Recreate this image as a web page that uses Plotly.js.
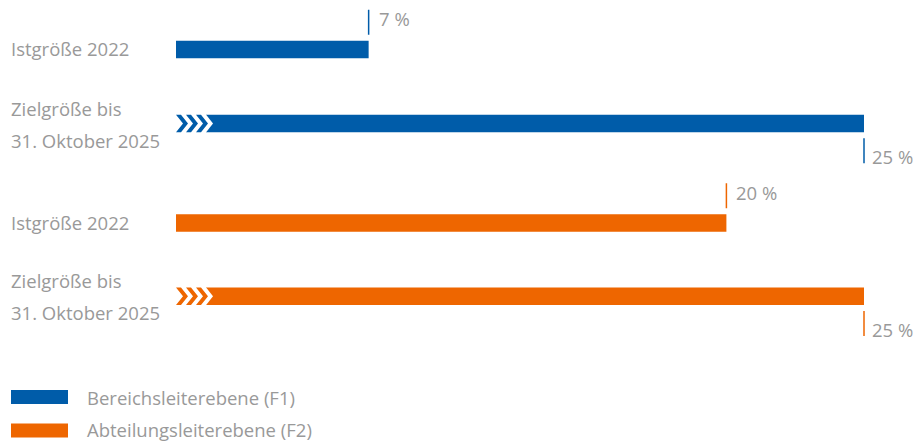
<!DOCTYPE html>
<html>
<head>
<meta charset="utf-8">
<script src="https://cdn.plot.ly/plotly-3.0.1.min.js"></script>
<style>html,body{margin:0;padding:0;background:#fff;}#chart{width:914px;height:442px;}</style>
</head>
<body>
<div id="chart"></div>
<script>
// ---- data ----
const seriesNames = ['Bereichsleiterebene (F1)', 'Abteilungsleiterebene (F2)'];
const istLabel = 'Istgröße 2022';
const zielLabelLines = ['Zielgröße bis', '31. Oktober 2025'];
const istValues = [7, 20];
const zielValues = [25, 25];
const seriesColors = ['#005CA9', '#EE6600'];

// ---- layout constants ----
const W = 914, H = 442;
const x0px = 176, x25px = 864;
const k = 25 / (x25px - x0px);          // data units per pixel
const TXT = '#999999';
const FONT = 'Open Sans, sans-serif';
const FS = 18.5;
const barH = 17.5;
const groupY = [[49.5, 123.5], [223, 296.3]]; // [ist, ziel] centers (px == y units)

const traces = [];
const annotations = [];
const shapes = [];

function fmt(v) { return v + ' %'; }

seriesNames.forEach((name, g) => {
  const col = seriesColors[g];
  const yI = groupY[g][0], yZ = groupY[g][1];
  const chevPeriod = 10 * k, chevDepth = 7 * k, chevThick = 5 * k;
  const zielStart = 3 * chevPeriod;

  // Ist bar
  traces.push({type: 'bar', orientation: 'h', x: [istValues[g]], y: [yI], base: [0],
    width: barH, marker: {color: col, line: {width: 0}}, hoverinfo: 'skip', showlegend: false});
  // Ziel bar (starts after chevrons)
  traces.push({type: 'bar', orientation: 'h', x: [zielValues[g] - zielStart], y: [yZ], base: [zielStart],
    width: barH, marker: {color: col, line: {width: 0}}, hoverinfo: 'skip', showlegend: false});
  // notch at Ziel bar start
  const top = yZ - barH / 2, bot = yZ + barH / 2;
  traces.push({type: 'scatter', mode: 'lines', fill: 'toself', fillcolor: '#ffffff',
    x: [zielStart - 0.01, zielStart + chevDepth, zielStart - 0.01, zielStart - 0.01],
    y: [top - 0.5, yZ, bot + 0.5, top - 0.5], line: {width: 0, color: '#ffffff'},
    hoverinfo: 'skip', showlegend: false});
  // chevrons
  for (let i = 0; i < 3; i++) {
    const a = i * chevPeriod;
    traces.push({type: 'scatter', mode: 'lines', fill: 'toself', fillcolor: col,
      x: [a, a + chevThick, a + chevThick + chevDepth, a + chevThick, a, a + chevDepth, a],
      y: [top, top, yZ, bot, bot, yZ, top], line: {width: 0, color: col},
      hoverinfo: 'skip', showlegend: false});
  }
  // value marker lines
  const iTop = yI - barH / 2;
  traces.push({type: 'scatter', mode: 'lines', x: [istValues[g], istValues[g]], y: [iTop - 6, iTop - 31],
    line: {color: col, width: 1.5}, hoverinfo: 'skip', showlegend: false});
  traces.push({type: 'scatter', mode: 'lines', x: [zielValues[g], zielValues[g]], y: [bot + 6, bot + 31],
    line: {color: col, width: 1.5}, hoverinfo: 'skip', showlegend: false});
  // value labels
  annotations.push({xref: 'x', yref: 'y', x: istValues[g] + 9 * k, y: iTop - 22, text: fmt(istValues[g]),
    showarrow: false, xanchor: 'left', yanchor: 'middle', borderpad: 0, font: {family: FONT, size: FS, color: TXT}});
  annotations.push({xref: 'x', yref: 'y', x: zielValues[g] + 7 * k, y: bot + 24, text: fmt(zielValues[g]),
    showarrow: false, xanchor: 'left', yanchor: 'middle', borderpad: 0, font: {family: FONT, size: FS, color: TXT}});
  // row labels
  annotations.push({xref: 'paper', yref: 'y', x: 10 / W, y: yI - 1, text: istLabel, showarrow: false,
    xanchor: 'left', yanchor: 'middle', borderpad: 0, font: {family: FONT, size: FS, color: TXT}});
  annotations.push({xref: 'paper', yref: 'y', x: 10 / W, y: yZ - 15.5, text: zielLabelLines[0], showarrow: false,
    xanchor: 'left', yanchor: 'middle', borderpad: 0, font: {family: FONT, size: FS, color: TXT}});
  annotations.push({xref: 'paper', yref: 'y', x: 10 / W, y: yZ + 16.5, text: zielLabelLines[1], showarrow: false,
    xanchor: 'left', yanchor: 'middle', borderpad: 0, font: {family: FONT, size: FS, color: TXT}});
  // legend
  const ly = [397, 430.5][g];
  shapes.push({type: 'rect', xref: 'paper', yref: 'y', x0: 11 / W, x1: 68 / W, y0: ly - 7, y1: ly + 7,
    fillcolor: col, line: {width: 0}});
  annotations.push({xref: 'paper', yref: 'y', x: 86 / W, y: ly - (g ? 1.5 : 0), text: name, showarrow: false,
    xanchor: 'left', yanchor: 'middle', borderpad: 0, font: {family: FONT, size: FS, color: TXT}});
});

const layout = {
  width: W, height: H,
  margin: {l: 0, r: 0, t: 0, b: 0, pad: 0},
  paper_bgcolor: '#ffffff', plot_bgcolor: '#ffffff',
  xaxis: {range: [-x0px * k, (W - x0px) * k], visible: false, fixedrange: true},
  yaxis: {range: [H, 0], visible: false, fixedrange: true},
  barmode: 'overlay',
  showlegend: false,
  annotations: annotations,
  shapes: shapes
};

Plotly.newPlot('chart', traces, layout, {displayModeBar: false, staticPlot: true});
</script>
</body>
</html>
